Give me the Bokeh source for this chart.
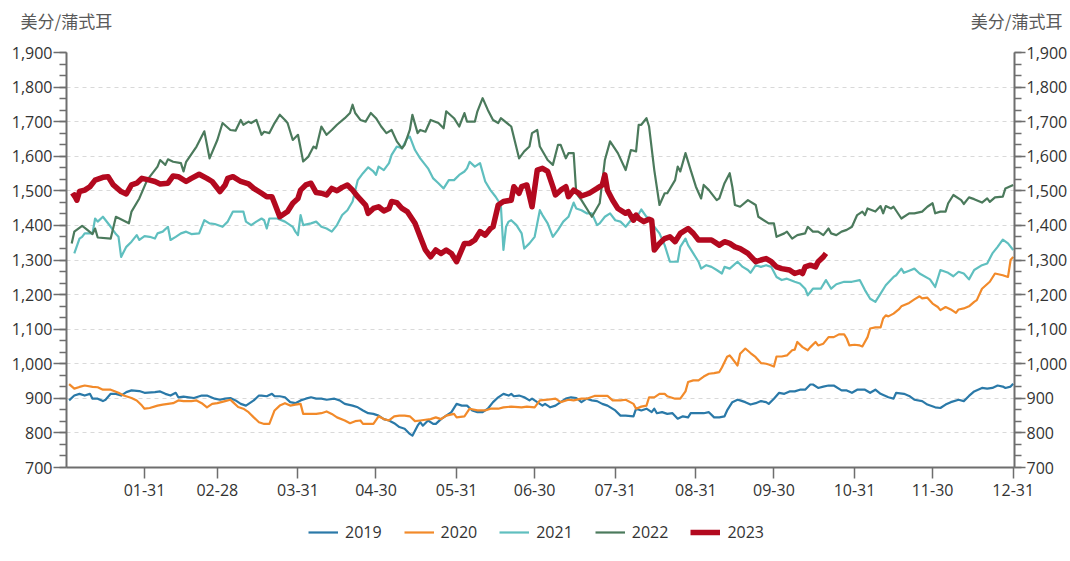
from bokeh.plotting import figure
from bokeh.layouts import column
from bokeh.models import (Range1d, LinearAxis, FixedTicker, Legend, LegendItem, Label,
                          NumeralTickFormatter)
from bokeh.embed import file_html
from bokeh.resources import INLINE

# ---------------- data (x = day of year, 0 = Jan 1) ----------------
month_end_days = [30, 58, 89, 119, 150, 180, 211, 242, 272, 303, 333, 364]
month_end_labels = ["01-31", "02-28", "03-31", "04-30", "05-31", "06-30",
                    "07-31", "08-31", "09-30", "10-31", "11-30", "12-31"]
y_ticks = [700, 800, 900, 1000, 1100, 1200, 1300, 1400, 1500, 1600, 1700, 1800, 1900]
unit_text = "美分/蒲式耳"
series_names = ["2019", "2020", "2021", "2022", "2023"]

x2019 = [1,3,5,7,9,10,12,14,15,17,19,21,23,25,28,30,34,36,38,40,42,43,45,47,49,52,54,57,59,61,63,65,67,69,70,72,74,75,77,79,80,82,84,86,88,90,92,94,96,98,100,103,105,107,110,112,114,116,118,120,122,124,126,128,130,132,133,135,136,137,139,141,142,144,146,148,150,152,154,156,158,160,162,164,166,168,170,171,172,174,176,178,179,181,183,184,186,188,190,192,194,196,198,200,202,204,206,208,211,213,215,218,219,221,223,225,226,227,229,231,233,235,237,239,240,243,245,247,249,251,253,254,256,258,259,261,263,265,267,269,270,272,274,276,278,280,282,284,286,287,289,291,293,295,298,300,302,304,307,309,311,313,316,318,319,322,324,326,329,331,334,336,338,340,343,345,347,349,352,354,356,358,360,361,363,364]
y2019 = [894,908,913,908,913,899,899,892,896,913,913,908,918,923,921,916,918,920,913,908,916,903,905,903,901,908,908,899,896,899,901,894,884,879,884,894,908,908,906,913,906,906,903,889,886,894,899,903,899,899,896,899,894,884,879,874,865,857,855,850,840,836,828,817,812,797,792,821,831,821,836,826,826,840,850,860,884,879,879,865,860,860,870,889,903,913,908,913,906,908,903,894,899,889,879,884,874,879,889,899,903,901,889,899,894,892,884,879,865,850,850,848,870,865,870,860,870,857,860,855,857,841,848,845,857,857,857,860,845,845,848,865,889,896,894,889,882,886,892,889,884,899,916,913,920,920,925,925,940,940,930,934,937,937,923,923,916,925,925,916,925,913,903,899,916,913,907,896,892,882,874,872,882,889,896,892,907,920,930,928,930,937,934,930,934,942]

x2020 = [1,3,5,7,10,12,14,17,20,22,25,27,29,30,32,35,37,39,41,43,45,48,50,52,54,56,58,61,63,64,66,68,70,72,74,76,78,80,82,84,86,88,90,91,93,96,98,100,102,104,107,109,111,113,114,116,118,120,122,124,126,128,130,132,134,136,138,140,142,144,146,149,150,153,155,158,161,163,166,168,171,175,177,180,182,185,188,190,193,195,198,200,203,206,208,210,213,215,218,219,221,223,224,226,228,230,231,234,236,238,239,241,243,245,247,249,251,252,254,255,256,258,259,261,263,265,267,269,270,272,273,275,277,279,280,281,283,285,286,288,289,291,293,295,297,299,300,301,303,305,306,308,309,311,313,314,315,316,318,320,321,324,326,328,329,331,333,335,336,338,340,342,343,345,347,349,350,352,355,357,360,362,363,364]
y2020 = [941,928,933,937,933,932,925,925,916,908,901,894,879,870,872,879,882,884,886,894,892,892,894,886,874,884,886,892,896,889,875,870,860,845,831,826,826,865,879,886,879,882,884,855,855,855,857,862,855,845,836,828,834,836,826,826,826,848,840,836,848,850,850,848,834,836,838,840,845,840,850,855,845,848,870,865,865,870,870,874,876,874,876,874,894,896,899,889,896,894,899,899,907,907,907,894,894,896,884,870,876,879,903,903,913,913,906,899,899,920,947,952,952,963,971,973,976,989,1020,1024,1015,995,1029,1044,1031,1019,1002,1000,998,992,1021,1021,1024,1039,1041,1063,1048,1039,1048,1063,1053,1058,1077,1077,1085,1085,1073,1053,1055,1053,1050,1077,1102,1105,1105,1131,1140,1137,1145,1157,1166,1176,1186,1195,1189,1191,1174,1164,1155,1164,1157,1147,1157,1160,1166,1179,1184,1217,1237,1261,1256,1251,1300,1309]

x2021 = [3,5,6,7,10,11,12,14,17,19,20,21,23,25,27,28,30,32,34,35,37,39,40,42,44,46,48,51,53,55,57,60,62,64,66,68,69,71,73,75,76,77,78,81,84,85,87,88,89,90,91,94,96,98,100,102,104,106,108,110,112,114,116,118,119,120,122,124,125,127,129,131,132,134,136,139,141,143,145,147,149,151,153,154,155,157,158,159,161,163,165,167,168,169,170,171,173,175,176,178,180,182,183,185,187,189,191,193,195,196,198,200,202,204,205,207,209,211,213,215,217,219,221,223,225,226,228,230,232,234,235,236,238,239,241,243,244,246,248,250,252,253,255,258,260,262,263,265,267,269,271,273,275,277,280,282,284,285,287,290,292,294,296,299,302,305,307,309,311,313,315,318,319,321,322,324,326,328,332,334,336,339,341,343,345,347,349,352,354,356,358,360,362,364]
y2021 = [1319,1362,1367,1377,1377,1420,1411,1425,1396,1375,1367,1309,1338,1353,1372,1358,1369,1367,1362,1377,1382,1396,1358,1367,1377,1382,1375,1377,1415,1406,1404,1396,1411,1440,1440,1440,1411,1401,1411,1420,1415,1391,1420,1420,1411,1406,1396,1382,1372,1430,1401,1406,1411,1396,1391,1382,1401,1430,1444,1469,1531,1551,1568,1556,1546,1570,1560,1580,1604,1628,1623,1652,1657,1618,1594,1565,1536,1522,1507,1531,1531,1546,1556,1565,1584,1570,1575,1580,1527,1502,1483,1459,1329,1396,1411,1415,1401,1377,1333,1348,1367,1444,1430,1406,1367,1387,1411,1425,1466,1449,1444,1435,1435,1401,1406,1425,1435,1415,1411,1396,1415,1420,1446,1425,1415,1396,1377,1343,1295,1295,1295,1338,1362,1343,1319,1295,1275,1285,1280,1271,1261,1280,1275,1295,1280,1271,1263,1285,1280,1285,1280,1251,1242,1246,1237,1232,1217,1198,1217,1217,1242,1217,1230,1237,1237,1242,1213,1188,1179,1203,1227,1251,1256,1275,1263,1269,1275,1261,1244,1222,1271,1263,1253,1266,1261,1244,1271,1285,1290,1319,1338,1359,1348,1329]

x2022 = [2,3,6,8,10,11,12,17,19,24,25,28,31,35,36,38,39,41,44,45,46,50,53,55,58,60,63,65,67,68,70,71,73,75,76,78,80,82,84,85,87,89,91,93,95,96,98,100,102,104,107,109,110,111,113,115,117,119,121,123,125,127,129,130,132,133,135,136,138,140,143,145,146,149,151,153,154,157,158,160,162,164,166,167,171,174,176,178,179,181,182,185,187,189,190,192,193,195,196,198,202,205,207,209,212,215,217,219,220,221,223,224,226,228,230,231,234,235,236,238,240,242,244,245,247,250,251,253,255,256,257,259,262,265,266,270,272,273,276,277,279,281,284,285,287,289,291,293,294,296,298,300,302,304,306,307,308,311,313,314,315,317,318,321,324,326,329,331,333,334,336,338,339,341,344,345,347,349,352,354,355,357,360,361,364]
y2022 = [1348,1382,1399,1387,1375,1391,1365,1362,1425,1406,1440,1478,1531,1570,1589,1575,1591,1584,1580,1556,1584,1628,1672,1594,1647,1696,1676,1674,1705,1691,1700,1696,1705,1662,1671,1667,1696,1720,1705,1696,1647,1662,1585,1599,1628,1623,1686,1662,1676,1691,1710,1725,1749,1725,1705,1700,1725,1710,1686,1667,1676,1643,1623,1633,1676,1720,1667,1676,1671,1705,1696,1681,1730,1710,1686,1725,1700,1700,1730,1768,1734,1705,1696,1710,1686,1594,1614,1628,1667,1676,1628,1589,1575,1633,1633,1594,1609,1609,1493,1473,1425,1464,1589,1643,1609,1560,1618,1614,1691,1691,1710,1686,1560,1459,1493,1493,1531,1570,1556,1609,1560,1512,1478,1517,1502,1473,1478,1522,1551,1512,1459,1454,1473,1459,1425,1406,1406,1367,1377,1382,1362,1372,1377,1396,1382,1382,1372,1391,1377,1372,1382,1387,1396,1430,1440,1430,1449,1440,1456,1435,1456,1449,1454,1420,1435,1435,1440,1454,1464,1435,1440,1440,1464,1488,1473,1462,1481,1476,1466,1478,1468,1481,1483,1507,1517]

x2023 = [2,3,4,5,7,9,11,14,16,18,21,23,25,27,29,32,34,36,39,41,43,46,48,51,54,56,59,61,62,64,67,70,72,75,77,79,80,82,85,87,89,90,92,94,96,98,100,102,104,106,108,110,112,115,116,118,120,122,124,125,127,129,131,134,136,138,140,142,144,146,148,150,153,155,157,159,161,163,164,166,168,171,172,174,175,177,179,181,183,185,187,188,190,192,193,195,197,198,201,204,206,207,208,210,212,215,216,218,219,220,222,224,225,226,228,230,232,234,236,239,241,243,245,248,250,251,253,255,257,259,262,265,267,269,271,273,275,278,280,282,283,284,286,288,289,291,292]
y2023 = [1483,1488,1473,1498,1502,1512,1531,1539,1541,1517,1498,1491,1517,1522,1536,1531,1527,1520,1522,1543,1541,1527,1536,1548,1536,1527,1498,1517,1536,1541,1527,1520,1507,1493,1483,1483,1464,1425,1440,1464,1478,1502,1517,1522,1495,1493,1488,1507,1500,1510,1517,1502,1483,1459,1435,1449,1454,1442,1449,1469,1466,1449,1440,1406,1367,1329,1309,1329,1319,1329,1319,1295,1348,1348,1358,1382,1372,1391,1396,1459,1469,1473,1512,1493,1512,1517,1454,1560,1565,1556,1512,1488,1502,1512,1483,1502,1493,1485,1493,1507,1517,1546,1502,1473,1449,1435,1440,1415,1430,1420,1411,1418,1415,1329,1348,1362,1367,1353,1377,1391,1377,1358,1358,1358,1348,1343,1353,1348,1338,1333,1319,1295,1300,1304,1295,1280,1275,1271,1261,1266,1261,1280,1285,1280,1295,1309,1319]

colors = ["#2a79a8", "#f28a2a", "#5fbfbf", "#4b7a5c", "#b3091f"]
widths = [2.2, 2.2, 2.2, 2.2, 5.5]

TXT = "#333333"
AX = "#6e6e6e"
FONT = "Open Sans"
W = 1070

def strip(height):
    f = figure(width=W, height=height, output_backend="svg", toolbar_location=None,
               x_range=Range1d(0, W), y_range=Range1d(0, height),
               x_axis_location=None, y_axis_location=None,
               min_border_left=0, min_border_right=0, min_border_top=0, min_border_bottom=0,
               background_fill_color="white", border_fill_color="white")
    f.outline_line_color = None
    f.grid.visible = False
    if "frame_align" in f.properties():
        f.frame_align = False
    return f

# header strip with the unit texts
hd = strip(40)
hd.add_layout(Label(x=20, y=20, text=unit_text, text_font="Noto Sans CJK SC",
                    text_font_size="17px", text_color="#595959", text_baseline="middle",
                    text_align="left"))
hd.add_layout(Label(x=1062, y=20, text=unit_text, text_font="Noto Sans CJK SC",
                    text_font_size="17px", text_color="#595959", text_baseline="middle",
                    text_align="right"))

# main chart
p = figure(width=W, height=463, output_backend="svg", toolbar_location=None,
           x_range=Range1d(0, 364.5), y_range=Range1d(700, 1900),
           min_border_left=66, min_border_right=54, min_border_top=12, min_border_bottom=36,
           background_fill_color="white", border_fill_color="white")
p.outline_line_color = None
p.xgrid.visible = False
p.ygrid.grid_line_color = "#d9d9d9"
p.ygrid.grid_line_dash = "4 4"
p.ygrid.grid_line_width = 1

minor = [700 + k * 100.0 / 3 for k in range(37)]
yticker = FixedTicker(ticks=y_ticks, minor_ticks=minor)

def style_y(ax, tick_out):
    ax.ticker = yticker
    ax.formatter = NumeralTickFormatter(format="0,0")
    ax.major_label_text_font = FONT
    ax.major_label_text_font_size = "16px"
    ax.major_label_text_color = TXT
    ax.axis_line_color = AX
    ax.axis_line_width = 2
    ax.major_tick_line_color = AX
    ax.major_tick_line_width = 1.5
    ax.minor_tick_line_color = AX
    ax.minor_tick_line_width = 1.5
    ax.major_tick_in = 0
    ax.minor_tick_in = 0
    ax.major_tick_out = tick_out
    ax.minor_tick_out = 7
    ax.major_label_standoff = 1

style_y(p.yaxis[0], 13)
ry = LinearAxis()
style_y(ry, 11)
p.add_layout(ry, "right")

xa = p.xaxis[0]
xa.ticker = FixedTicker(ticks=month_end_days, minor_ticks=[])
xa.major_label_overrides = {d: l for d, l in zip(month_end_days, month_end_labels)}
xa.major_label_text_font = FONT
xa.major_label_text_font_size = "16px"
xa.major_label_text_color = TXT
xa.axis_line_color = AX
xa.axis_line_width = 2
xa.major_tick_line_color = AX
xa.major_tick_line_width = 1.5
xa.major_tick_in = 0
xa.major_tick_out = 11
xa.minor_tick_line_color = None
xa.major_label_standoff = 5

xs = [x2019, x2020, x2021, x2022, x2023]
ys = [y2019, y2020, y2021, y2022, y2023]
for xx, yy, c, w in zip(xs, ys, colors, widths):
    p.line(xx, yy, line_color=c, line_width=w, line_join="round")

# legend strip below the chart (proxy lines lie outside the strip's visible range)
lg = strip(56)
items = []
for name, c, w in zip(series_names, colors, widths):
    r = lg.line([-50, -40], [-50, -40], line_color=c, line_width=w)
    items.append(LegendItem(label=name, renderers=[r]))
legend = Legend(items=items, orientation="horizontal", location=(308, 16),
                border_line_color=None, background_fill_alpha=0,
                label_text_font=FONT, label_text_font_size="16px", label_text_color=TXT,
                glyph_width=30, glyph_height=16, label_standoff=7, spacing=22,
                padding=6, margin=0)
lg.add_layout(legend, "center")

layout = column(hd, p, lg, spacing=0)
open("out.html", "w").write(file_html(layout, INLINE))
